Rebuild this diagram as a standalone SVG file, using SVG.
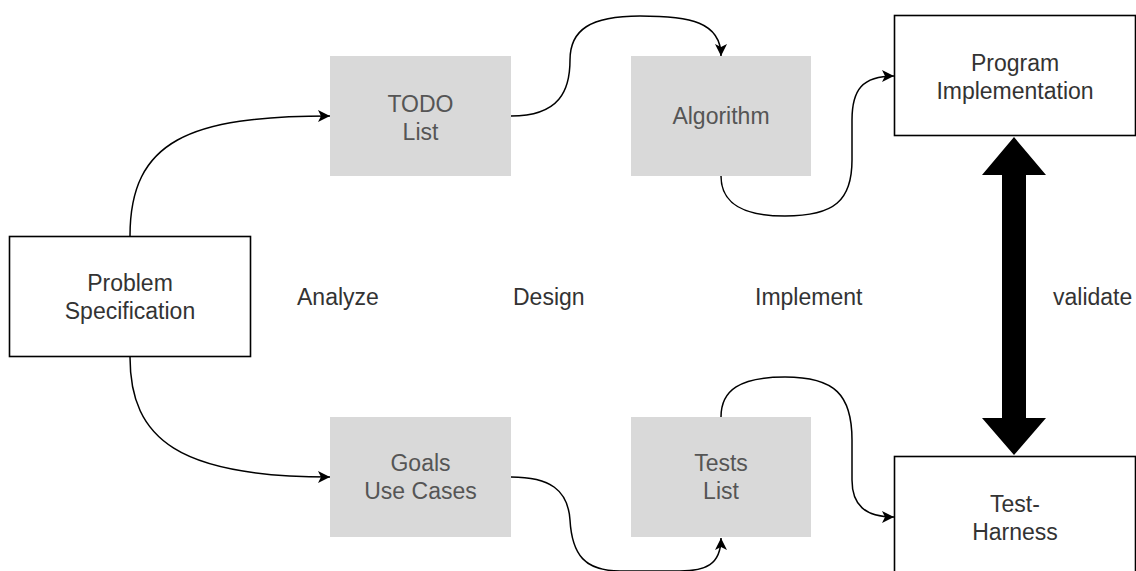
<svg xmlns="http://www.w3.org/2000/svg" width="1136" height="571" viewBox="0 0 1136 571">
<defs>
<marker id="arr" markerWidth="14" markerHeight="12" refX="12" refY="6" orient="auto" markerUnits="userSpaceOnUse">
<path d="M0,0 L12,6 L0,12 L3,6 Z" fill="#000"/>
</marker>
<style>
.box{fill:#fff;stroke:#000;stroke-width:1.6}
.gbox{fill:#d9d9d9;stroke:none}
.t{font-family:"Liberation Sans",Arial,sans-serif;font-size:23px;fill:#333;text-anchor:middle}
.gt{fill:#555}
.lbl{font-family:"Liberation Sans",Arial,sans-serif;font-size:23px;fill:#333}
.edge{fill:none;stroke:#000;stroke-width:1.5;marker-end:url(#arr)}
</style>
</defs>
<rect width="1136" height="571" fill="#fff"/>
<g id="connectors">
<path class="edge" d="M130,236 C130,140 190,116 330,116"/>
<path class="edge" d="M130,357 C130,440 180,477 330,477"/>
<path class="edge" d="M511,116 C560,116 570,90 570,60 C570,30 590,16 640,16 C690,16 721,22 721,56"/>
<path class="edge" d="M721,176 C721,205 745,216 785,216 C835,216 852,200 852,160 L852,120 C852,90 862,76 894,76"/>
<path class="edge" d="M721,417 C721,390 740,377 785,377 C835,377 852,395 852,440 L852,480 C852,505 865,517 894,517"/>
<path class="edge" d="M511,477 C550,477 568,490 570,520 C572,555 585,571 620,571 L680,571 C705,571 721,565 721,538"/>
<polygon points="1014,137 1046,175 1026,175 1026,418 1046,418 1014,455 982,418 1002,418 1002,175 982,175" fill="#000"/>
</g>
<g id="problem-spec">
<rect class="box" x="9.5" y="236.5" width="241" height="120"/>
<text class="t" x="130" y="291">Problem</text>
<text class="t" x="130" y="319">Specification</text>
</g>
<g id="todo-list">
<rect class="gbox" x="330" y="56" width="181" height="120"/>
<text class="t gt" x="420.5" y="112">TODO</text>
<text class="t gt" x="420.5" y="140">List</text>
</g>
<g id="algorithm">
<rect class="gbox" x="631" y="56" width="180" height="120"/>
<text class="t gt" x="721" y="124">Algorithm</text>
</g>
<g id="program-impl">
<rect class="box" x="894.5" y="15.5" width="241" height="120"/>
<text class="t" x="1015" y="71">Program</text>
<text class="t" x="1015" y="99">Implementation</text>
</g>
<g id="goals">
<rect class="gbox" x="330" y="417" width="181" height="120"/>
<text class="t gt" x="420.5" y="471">Goals</text>
<text class="t gt" x="420.5" y="499">Use Cases</text>
</g>
<g id="tests-list">
<rect class="gbox" x="631" y="417" width="180" height="120"/>
<text class="t gt" x="721" y="471">Tests</text>
<text class="t gt" x="721" y="499">List</text>
</g>
<g id="test-harness">
<rect class="box" x="894.5" y="456.5" width="241" height="121"/>
<text class="t" x="1015" y="512">Test-</text>
<text class="t" x="1015" y="540">Harness</text>
</g>
<g id="labels">
<text class="lbl" x="297" y="305">Analyze</text>
<text class="lbl" x="513" y="305">Design</text>
<text class="lbl" x="755" y="305">Implement</text>
<text class="lbl" x="1053" y="305">validate</text>
</g>
</svg>
